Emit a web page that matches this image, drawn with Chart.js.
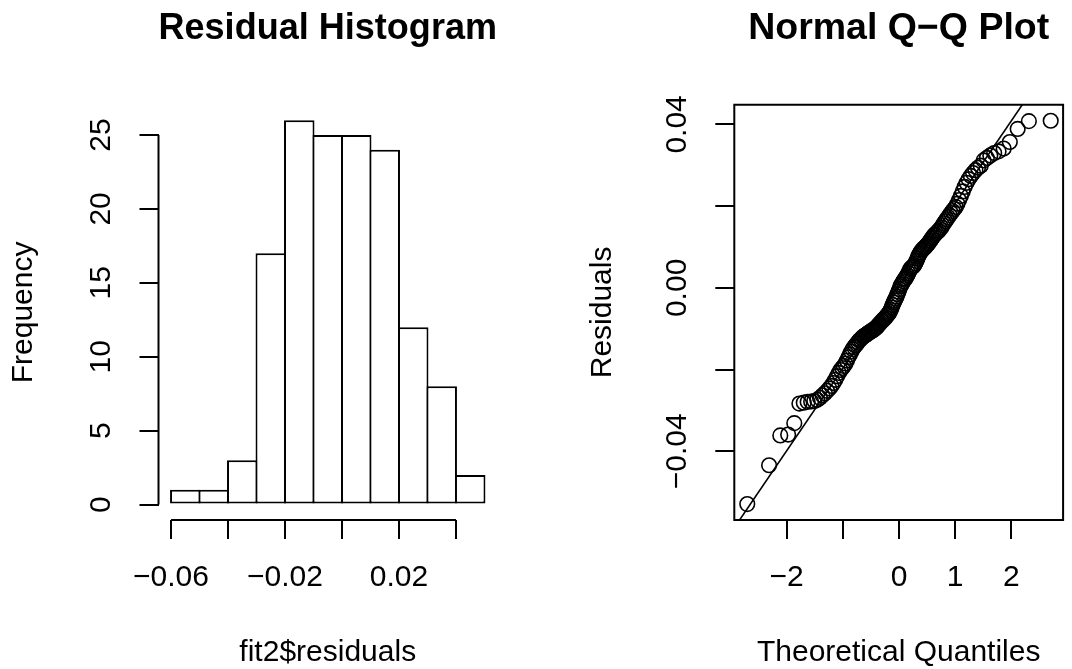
<!DOCTYPE html>
<html>
<head>
<meta charset="utf-8">
<script src="https://cdn.jsdelivr.net/npm/chart.js@4.4.1/dist/chart.umd.min.js"></script>
<style>
  body { margin: 0; background: #fff; }
  #wrap { position: relative; width: 1072px; height: 669px; }
  canvas { position: absolute; top: 0; }
</style>
</head>
<body>
<div id="wrap">
  <canvas id="histChart" width="536" height="669" style="left:0"></canvas>
  <canvas id="qqChart" width="536" height="669" style="left:536px"></canvas>
</div>
<script>
// histogram of fit2$residuals
const HIST_BREAKS = [-0.06, -0.05, -0.04, -0.03, -0.02, -0.01, 0, 0.01, 0.02, 0.03, 0.04, 0.05];
const HIST_COUNTS = [1, 1, 3, 17, 26, 25, 25, 24, 12, 8, 2];
const HIST_X_TICKS = [-0.06, -0.04, -0.02, 0, 0.02, 0.04];
const HIST_X_LABELS = ['\u22120.06', '', '\u22120.02', '', '0.02', ''];
const HIST_Y_TICKS = [0, 5, 10, 15, 20, 25];
const HIST_Y_LABELS = ['0', '5', '10', '15', '20', '25'];
const HIST_X_RANGE = [-0.0644, 0.0544];
const HIST_Y_RANGE = [-1.04, 27.04];

// sorted residuals
const RESIDUALS = [
  -0.0529, -0.0434, -0.0361, -0.0359, -0.0331,
  -0.0283, -0.0281, -0.0279, -0.0278, -0.0277, -0.0274, -0.0269, -0.0263, -0.0258,
  -0.0252, -0.0246, -0.0240, -0.0233, -0.0225, -0.0216, -0.0208, -0.0201,
  -0.0196, -0.0191, -0.0185, -0.0178, -0.0170, -0.0163, -0.0156, -0.0150, -0.0145,
  -0.0141, -0.0137, -0.0133, -0.0129, -0.0126, -0.0123, -0.0120, -0.0118, -0.0116,
  -0.0114, -0.0112, -0.0110, -0.0108, -0.0106, -0.0105, -0.0103, -0.0101,
  -0.0099, -0.0097, -0.0094, -0.0091, -0.0088, -0.0085, -0.0082, -0.0080, -0.0077,
  -0.0075, -0.0072, -0.0069, -0.0066, -0.0063, -0.0059, -0.0054, -0.0048, -0.0042,
  -0.0036, -0.0031, -0.0026, -0.0021, -0.0015, -0.0009, -0.0003,
  0.0004, 0.0008, 0.0012, 0.0016, 0.0020, 0.0023, 0.0027, 0.0031, 0.0036, 0.0041,
  0.0046, 0.0049, 0.0051, 0.0053, 0.0056, 0.0060, 0.0066, 0.0072, 0.0078, 0.0083,
  0.0087, 0.0091, 0.0094, 0.0097, 0.0099,
  0.0102, 0.0105, 0.0108, 0.0112, 0.0116, 0.0120, 0.0124, 0.0128, 0.0131, 0.0134,
  0.0137, 0.0140, 0.0144, 0.0148, 0.0153, 0.0158, 0.0163, 0.0168, 0.0173, 0.0178,
  0.0183, 0.0188, 0.0193, 0.0198,
  0.0206, 0.0215, 0.0225, 0.0236, 0.0247, 0.0257, 0.0266, 0.0274, 0.0281, 0.0288,
  0.0294, 0.0299,
  0.0312, 0.0318, 0.0324, 0.0330, 0.0334, 0.0341, 0.0357, 0.0389,
  0.0408, 0.0409
];
const QQ_LINE_INTERCEPT = 0.0005;
const QQ_LINE_SLOPE = 0.0202;
const QQ_X_TICKS = [-2, -1, 0, 1, 2];
const QQ_X_LABELS = ['\u22122', '', '0', '1', '2'];
const QQ_Y_TICKS = [-0.04, -0.02, 0, 0.02, 0.04];
const QQ_Y_LABELS = ['\u22120.04', '', '0.00', '', '0.04'];
const QQ_X_RANGE = [-2.93, 2.92];
const QQ_Y_RANGE = [-0.0568, 0.0448];

const FONT = "'Liberation Sans', Arial, Helvetica, sans-serif";
const LAB = { family: FONT, size: 30, lineHeight: 1.2 };

// inverse normal cdf (Acklam), for the theoretical quantiles
function qnorm(p) {
  const a = [-39.6968302866538, 220.946098424521, -275.928510446969, 138.357751867269, -30.6647980661472, 2.50662827745924];
  const b = [-54.4760987982241, 161.585836858041, -155.698979859887, 66.8013118877197, -13.2806815528857];
  const c = [-0.00778489400243029, -0.322396458041136, -2.40075827716184, -2.54973253934373, 4.37466414146497, 2.93816398269878];
  const d = [0.00778469570904146, 0.32246712907004, 2.445134137143, 3.75440866190742];
  const lo = 0.02425;
  let q, r;
  if (p < lo || p > 1 - lo) {
    q = Math.sqrt(-2 * Math.log(p < lo ? p : 1 - p));
    const v = (((((c[0]*q+c[1])*q+c[2])*q+c[3])*q+c[4])*q+c[5]) / ((((d[0]*q+d[1])*q+d[2])*q+d[3])*q+1);
    return p < lo ? v : -v;
  }
  q = p - 0.5; r = q * q;
  return (((((a[0]*r+a[1])*r+a[2])*r+a[3])*r+a[4])*r+a[5])*q / (((((b[0]*r+b[1])*r+b[2])*r+b[3])*r+b[4])*r+1);
}

// R style axes: short axis lines or a box, and y tick labels turned upright
function rAxes(cfg) {
  return {
    id: 'rAxes',
    afterDraw(chart) {
      const { ctx, chartArea: a, scales: { x, y } } = chart;
      ctx.save();
      ctx.strokeStyle = '#000';
      ctx.lineWidth = 2;
      ctx.beginPath();
      if (cfg.box) {
        ctx.rect(a.left, a.top, a.right - a.left, a.bottom - a.top);
      } else {
        ctx.moveTo(x.getPixelForValue(cfg.xTicks[0]), a.bottom);
        ctx.lineTo(x.getPixelForValue(cfg.xTicks[cfg.xTicks.length - 1]), a.bottom);
        ctx.moveTo(a.left, y.getPixelForValue(cfg.yTicks[0]));
        ctx.lineTo(a.left, y.getPixelForValue(cfg.yTicks[cfg.yTicks.length - 1]));
      }
      ctx.stroke();
      ctx.fillStyle = '#000';
      ctx.font = LAB.size + 'px ' + FONT;
      ctx.textAlign = 'center';
      ctx.textBaseline = 'middle';
      cfg.yTicks.forEach((v, i) => {
        if (!cfg.yLabels[i]) return;
        ctx.save();
        ctx.translate(a.left - 57, y.getPixelForValue(v));
        ctx.rotate(-Math.PI / 2);
        ctx.fillText(cfg.yLabels[i], 0, 0);
        ctx.restore();
      });
      ctx.restore();
    }
  };
}

function tickGrid() {
  return { offset: false, drawOnChartArea: false, drawTicks: true, tickLength: 19, color: '#000', lineWidth: 2 };
}

function mainTitle(text) {
  return {
    display: true, text: text, fullSize: false, color: '#000',
    font: { family: FONT, size: 37.5, weight: 'bold', lineHeight: 1.2 },
    padding: { top: 6, bottom: 53.8 }
  };
}

// ---- histogram ----
const histData = HIST_COUNTS.map((n, i) => ({ x: (HIST_BREAKS[i] + HIST_BREAKS[i + 1]) / 2, y: n }));

new Chart(document.getElementById('histChart'), {
  type: 'bar',
  data: {
    datasets: [{
      data: histData,
      backgroundColor: '#fff',
      borderColor: '#000',
      borderWidth: 2,
      borderSkipped: false,
      categoryPercentage: 1,
      barPercentage: 1.07
    }]
  },
  options: {
    responsive: false,
    animation: false,
    events: [],
    layout: { padding: { left: 0, right: 39, top: 0, bottom: 0 } },
    plugins: { legend: { display: false }, tooltip: { enabled: false }, title: mainTitle('Residual Histogram') },
    scales: {
      x: {
        type: 'linear', offset: false,
        min: HIST_X_RANGE[0], max: HIST_X_RANGE[1],
        afterBuildTicks: s => { s.ticks = HIST_X_TICKS.map(v => ({ value: v })); },
        afterFit: s => { s.height = 149; },
        grid: tickGrid(),
        border: { display: false },
        ticks: { callback: (v, i) => HIST_X_LABELS[i], autoSkip: false, maxRotation: 0, padding: 20.5, font: LAB, color: '#000' },
        title: { display: true, text: 'fit2$residuals', color: '#000', font: { family: FONT, size: 30, lineHeight: 1.1 }, padding: 0 }
      },
      y: {
        min: HIST_Y_RANGE[0], max: HIST_Y_RANGE[1],
        afterBuildTicks: s => { s.ticks = HIST_Y_TICKS.map(v => ({ value: v })); },
        afterFit: s => { s.width = 158.5; },
        grid: tickGrid(),
        border: { display: false },
        ticks: { display: false },
        title: { display: true, text: 'Frequency', color: '#000', font: LAB, padding: { top: 6, bottom: 0 } }
      }
    }
  },
  plugins: [rAxes({ box: false, xTicks: HIST_X_TICKS, yTicks: HIST_Y_TICKS, yLabels: HIST_Y_LABELS })]
});

// ---- normal Q-Q plot ----
const n = RESIDUALS.length;
const qqPoints = RESIDUALS.map((r, i) => ({ x: qnorm((i + 0.5) / n), y: r }));
const qqLine = QQ_X_RANGE.map(x => ({ x: x, y: QQ_LINE_INTERCEPT + QQ_LINE_SLOPE * x }));

new Chart(document.getElementById('qqChart'), {
  type: 'scatter',
  data: {
    datasets: [
      { data: qqLine, showLine: true, pointRadius: 0, borderColor: '#000', borderWidth: 1.6 },
      { data: qqPoints, pointRadius: 7.3, pointStyle: 'circle', borderColor: '#000', backgroundColor: 'rgba(0,0,0,0)', borderWidth: 1.6 }
    ]
  },
  options: {
    responsive: false,
    animation: false,
    events: [],
    layout: { padding: { left: 0, right: 1, top: 0, bottom: 0 } },
    plugins: { legend: { display: false }, tooltip: { enabled: false }, title: mainTitle('Normal Q\u2212Q Plot') },
    scales: {
      x: {
        type: 'linear',
        min: QQ_X_RANGE[0], max: QQ_X_RANGE[1],
        afterBuildTicks: s => { s.ticks = QQ_X_TICKS.map(v => ({ value: v })); },
        afterFit: s => { s.height = 149; },
        grid: tickGrid(),
        border: { display: false },
        ticks: { callback: (v, i) => QQ_X_LABELS[i], autoSkip: false, maxRotation: 0, padding: 20.5, font: LAB, color: '#000' },
        title: { display: true, text: 'Theoretical Quantiles', color: '#000', font: { family: FONT, size: 30, lineHeight: 1.1 }, padding: 0 }
      },
      y: {
        min: QQ_Y_RANGE[0], max: QQ_Y_RANGE[1],
        afterBuildTicks: s => { s.ticks = QQ_Y_TICKS.map(v => ({ value: v })); },
        afterFit: s => { s.width = 198.3; },
        grid: tickGrid(),
        border: { display: false },
        ticks: { display: false },
        title: { display: true, text: 'Residuals', color: '#000', font: LAB, padding: { top: 48.6, bottom: 0 } }
      }
    }
  },
  plugins: [rAxes({ box: true, xTicks: QQ_X_TICKS, yTicks: QQ_Y_TICKS, yLabels: QQ_Y_LABELS })]
});
</script>
</body>
</html>
